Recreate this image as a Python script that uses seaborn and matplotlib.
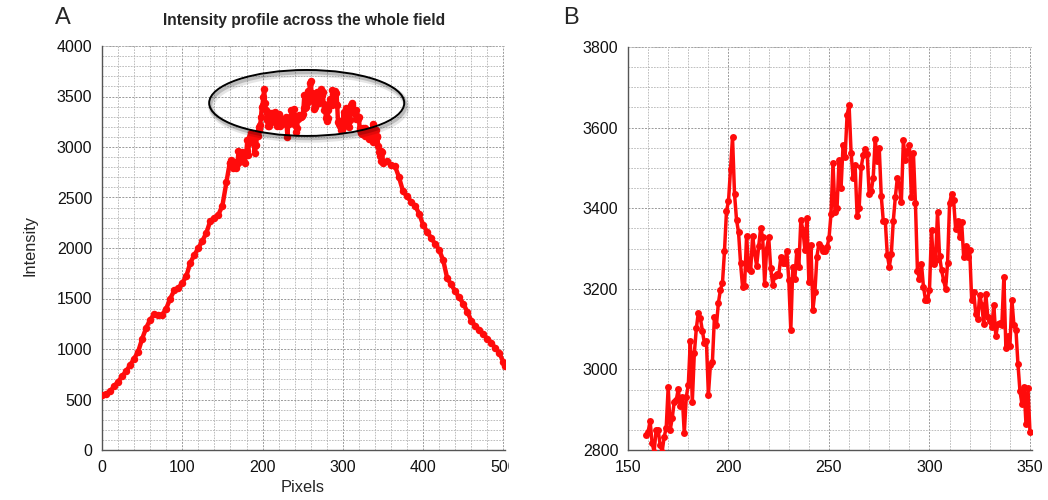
import numpy as np
import pandas as pd
import matplotlib
matplotlib.use("Agg")
import matplotlib.pyplot as plt
import seaborn as sns
from matplotlib.patches import Ellipse
from matplotlib.transforms import Bbox, offset_copy
from matplotlib.ticker import MultipleLocator

# ---------------- data ----------------
# detailed profile (panel B and centre part of panel A)
pix_mid = list(range(159, 351))
int_mid = [
    2837, 2845, 2872, 2817, 2796, 2850, 2850, 2812, 2796, 2833,   # 159-168
    2854, 2957, 2850, 2879, 2920, 2924, 2951, 2908, 2932, 2841,   # 169-178
    2932, 2961, 3070, 2920, 3040, 3102, 3141, 3127, 3096, 3065,   # 179-188
    3070, 2937, 3011, 3019, 3130, 3110, 3166, 3198, 3214, 3293,   # 189-198
    3393, 3417, 3497, 3576, 3435, 3371, 3340, 3264, 3204, 3208,   # 199-208
    3332, 3250, 3243, 3332, 3289, 3257, 3305, 3351, 3328, 3212,   # 209-218
    3299, 3328, 3251, 3210, 3232, 3237, 3234, 3278, 3264, 3264,   # 219-228
    3294, 3221, 3097, 3255, 3224, 3295, 3255, 3371, 3347, 3297,   # 229-238
    3375, 3216, 3309, 3148, 3193, 3280, 3312, 3304, 3293, 3295,   # 239-248
    3303, 3325, 3386, 3512, 3390, 3400, 3520, 3450, 3556, 3526,   # 249-258
    3632, 3655, 3537, 3475, 3506, 3380, 3400, 3501, 3531, 3548,   # 259-268
    3535, 3435, 3442, 3475, 3572, 3516, 3549, 3430, 3369, 3369,   # 269-278
    3284, 3255, 3286, 3369, 3427, 3475, 3458, 3415, 3568, 3520,   # 279-288
    3541, 3558, 3427, 3537, 3413, 3245, 3225, 3262, 3205, 3173,   # 289-298
    3172, 3198, 3345, 3262, 3272, 3390, 3282, 3247, 3222, 3199,   # 299-308
    3264, 3413, 3435, 3420, 3348, 3369, 3328, 3365, 3279, 3307,   # 309-318
    3279, 3297, 3171, 3193, 3138, 3125, 3185, 3160, 3112, 3188,   # 319-328
    3131, 3119, 3105, 3160, 3082, 3113, 3116, 3110, 3229, 3054,   # 329-338
    3082, 3057, 3173, 3110, 3099, 3014, 2947, 2914, 2957, 2865,   # 339-348
    2953, 2844,                                                   # 349-350
]

# outer parts of the whole-field profile (panel A)
pix_left = [0, 5, 10, 15, 20, 25, 30, 35, 40, 45, 50, 55, 60, 65, 70, 75,
            80, 85, 90, 95, 100, 105, 110, 115, 120, 125, 130, 135, 140, 145,
            150, 155]
int_left = [540, 558, 580, 630, 676, 730, 780, 840, 905, 973, 1100, 1210,
            1290, 1345, 1337, 1340, 1400, 1500, 1580, 1601, 1655, 1720, 1855,
            1930, 2000, 2070, 2150, 2270, 2300, 2330, 2420, 2650]
pix_right = [355, 360, 365, 370, 375, 380, 385, 390, 395, 400, 405, 410, 415,
             420, 425, 430, 435, 440, 445, 450, 455, 460, 465, 470, 475, 480,
             485, 490, 495, 500, 502]
int_right = [2860, 2820, 2810, 2700, 2560, 2510, 2460, 2420, 2340, 2230, 2160,
             2100, 2040, 1980, 1880, 1700, 1640, 1570, 1510, 1450, 1370, 1280,
             1230, 1190, 1150, 1100, 1060, 1010, 960, 870, 830]

title_a = "Intensity profile across the whole field"
xlabel_a = "Pixels"
ylabel_a = "Intensity"

# ---------------- style ----------------
sns.set_theme(style="white")
plt.rcParams["font.family"] = ["Liberation Sans", "DejaVu Sans"]

RED = "#ff0b0b"
GRID_MIN = "#b4b4b4"
GRID_MAJ = "#999999"
DASH = (0, (2.0, 1.4))

W, H = 1048, 500
fig = plt.figure(figsize=(W / 100, H / 100), dpi=100)
fig.patch.set_facecolor("white")

axA = fig.add_axes([102 / W, 50 / H, (505 - 102) / W, (454 - 50) / H])
axB = fig.add_axes([628 / W, 50 / H, (1032 - 628) / W, (453 - 50) / H])

dfA = pd.DataFrame({
    "px": pix_left + pix_mid + pix_right,
    "val": int_left + int_mid + int_right,
})
dfB = pd.DataFrame({"px": pix_mid, "val": int_mid})

sns.lineplot(data=dfA, x="px", y="val", ax=axA, color=RED, linewidth=3.2,
             marker="o", markersize=5.4, markeredgewidth=0, estimator=None,
             sort=False, zorder=3)
sns.lineplot(data=dfB, x="px", y="val", ax=axB, color=RED, linewidth=2.5,
             marker="o", markersize=5.0, markeredgewidth=0, estimator=None,
             sort=False, zorder=3)


def style_axes(ax, xlim, ylim, xmaj, xmin, ymaj, ymin):
    ax.set_xlim(*xlim)
    ax.set_ylim(*ylim)
    ax.xaxis.set_major_locator(MultipleLocator(xmaj))
    ax.xaxis.set_minor_locator(MultipleLocator(xmin))
    ax.yaxis.set_major_locator(MultipleLocator(ymaj))
    ax.yaxis.set_minor_locator(MultipleLocator(ymin))
    ax.grid(which="minor", color=GRID_MIN, linestyle=DASH, linewidth=0.6)
    ax.grid(which="major", color=GRID_MAJ, linestyle=DASH, linewidth=0.7)
    ax.set_axisbelow(True)
    for s in ["top", "right"]:
        ax.spines[s].set_visible(False)
    for s in ["left", "bottom"]:
        ax.spines[s].set_color("#555555")
        ax.spines[s].set_linewidth(1.0)
    ax.tick_params(which="both", length=0, labelsize=11.5, colors="#111111",
                   pad=7)
    ax.set_xlabel("")
    ax.set_ylabel("")
    # top / right borders drawn as dashed grid
    ax.axhline(ylim[1], color=GRID_MIN, linestyle=DASH, lw=0.6, zorder=1)
    ax.axvline(xlim[1], color=GRID_MIN, linestyle=DASH, lw=0.6, zorder=1)


style_axes(axA, (0, 502), (0, 4000), 100, 20, 500, 100)
style_axes(axB, (150, 351), (2800, 3800), 50, 10, 200, 50)

axA.set_xticks([0, 100, 200, 300, 400, 500])
axB.set_xticks([150, 200, 250, 300, 350])

# ellipse highlighting the plateau, with a soft drop shadow
ell_kw = dict(xy=(255, 3436), width=243, height=653, angle=0)
for dx, dy, a, lw in [(1.6, -2.6, 0.10, 4.5), (1.0, -1.8, 0.18, 2.5)]:
    tr = offset_copy(axA.transData, fig=fig, x=dx, y=dy, units="points")
    axA.add_patch(Ellipse(**ell_kw, fill=False, edgecolor="black", alpha=a,
                          linewidth=lw, transform=tr, zorder=4))
axA.add_patch(Ellipse(**ell_kw, fill=False, edgecolor="black", linewidth=1.4,
                      zorder=5))

# texts
fig.text(304 / W, 1 - 20 / H, title_a, ha="center", va="center",
         fontsize=11.2, fontweight="bold")
fig.text(303 / W, 1 - 488 / H, xlabel_a, ha="center", va="center", fontsize=11.8)
fig.text(30 / W, 1 - 246 / H, ylabel_a, ha="center", va="center", fontsize=11.8,
         rotation=90)
fig.text(63 / W, 1 - 18 / H, "A", ha="center", va="center", fontsize=17)
fig.text(571 / W, 1 - 18 / H, "B", ha="center", va="center", fontsize=17)

# the last x tick label of panel A is cut at the panel edge
fig.canvas.draw()
clip = Bbox([[0, 0], [509, H]])
for lab in axA.get_xticklabels():
    lab.set_clip_box(clip)
    lab.set_clip_on(True)

fig.savefig("out.png", dpi=100, facecolor="white")
